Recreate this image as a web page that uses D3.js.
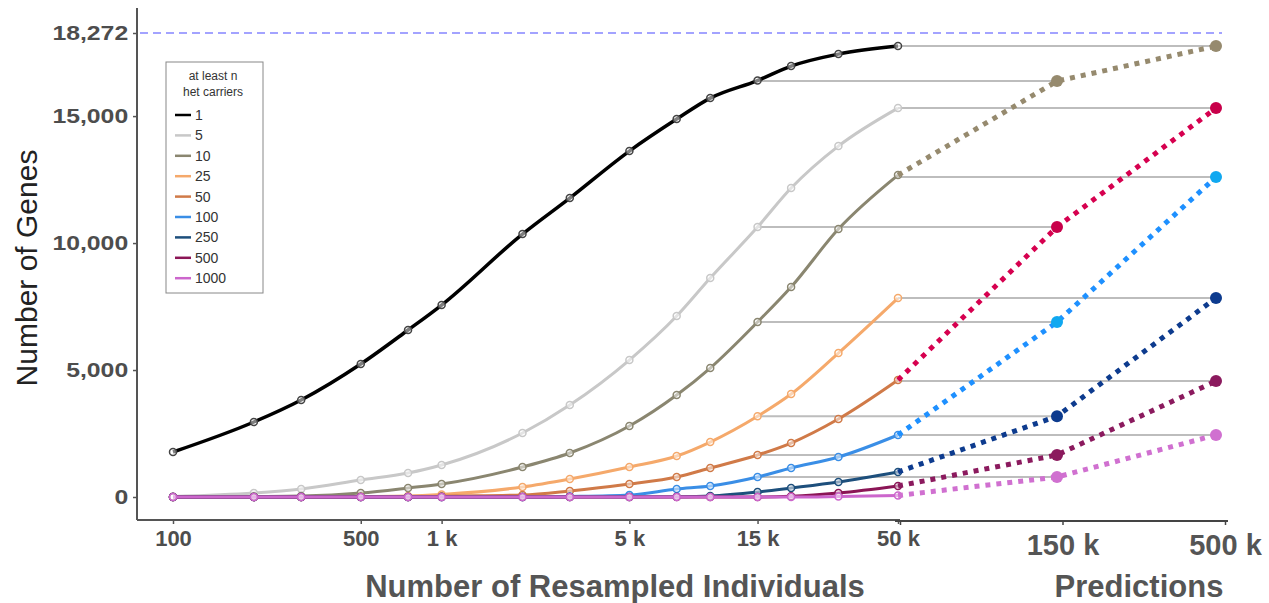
<!DOCTYPE html>
<html>
<head>
<meta charset="utf-8">
<script src="https://cdn.jsdelivr.net/npm/d3@7"></script>
<style>
  body { margin: 0; background: #fff; }
  svg { font-family: "Liberation Sans", Arial, sans-serif; }
</style>
</head>
<body>
<svg width="1269" height="603"></svg>
<script>
// Resampled sample sizes (x) and genes with at least n het carriers (y)
const sampleSizes = [100, 200, 300, 500, 750, 1000, 2000, 3000, 5000, 7500, 10000, 15000, 20000, 30000, 50000];
const thresholds = ["1", "5", "10", "25", "50", "100", "250", "500", "1000"];
const genes1    = [1772, 2953, 3819, 5236, 6575, 7559, 10354, 11772, 13622, 14882, 15709, 16400, 16969, 17441, 17756];
const genes5    = [20, 157, 315, 669, 945, 1260, 2520, 3622, 5394, 7126, 8622, 10630, 12165, 13819, 15315];
const genes10   = [0, 20, 40, 157, 354, 512, 1181, 1732, 2795, 4016, 5079, 6890, 8268, 10551, 12677];
const genes25   = [0, 0, 0, 20, 40, 100, 394, 709, 1181, 1614, 2165, 3180, 4055, 5669, 7835];
const genes50   = [0, 0, 0, 0, 0, 30, 79, 236, 512, 787, 1142, 1654, 2126, 3071, 4606];
const genes100  = [0, 0, 0, 0, 0, 0, 0, 20, 79, 315, 433, 787, 1142, 1575, 2441];
const genes250  = [0, 0, 0, 0, 0, 0, 0, 0, 0, 10, 40, 197, 354, 591, 984];
const genes500  = [0, 0, 0, 0, 0, 0, 0, 0, 0, 0, 0, 0, 30, 157, 433];
const genes1000 = [0, 0, 0, 0, 0, 0, 0, 0, 0, 0, 0, 0, 0, 20, 60];
const obsColors = ["#000000", "#c8c8c8", "#8a8670", "#f5a96b", "#d07a48", "#3a8ee6", "#1d4f7c", "#8b1556", "#cc66cc"];

// Predictions at 50k / 150k / 500k
const predLabels = ["50 k", "150 k", "500 k"];
const pred10   = [12677, 16378, 17756];
const pred50   = [4606, 10630, 15315];
const pred100  = [2441, 6890, 12598];
const pred250  = [984, 3180, 7835];
const pred500  = [433, 1654, 4567];
const pred1000 = [60, 787, 2441];
const predColors = ["#968a6e", "#d6004f", "#1e90ff", "#0d3b8e", "#8b1a5e", "#d070d0"];
const predDotColors = ["#968a6e", "#c8004a", "#10a8f0", "#0d3b8e", "#8b1a5e", "#d070d0"];

const xTickVals = [100, 500, 1000, 5000, 15000, 50000];
const xTickText = ["100", "500", "1 k", "5 k", "15 k", "50 k"];
const yTickVals = [0, 5000, 10000, 15000, 18272];
const totalGenes = 18272;

const observed = [genes1, genes5, genes10, genes25, genes50, genes100, genes250, genes500, genes1000];
const predicted = [pred10, pred50, pred100, pred250, pred500, pred1000];

const FONT = "'Liberation Sans', Arial, sans-serif";
const svg = d3.select("svg");

const x = d3.scaleLog().domain([100, 50000]).range([173, 898]);
const xp = d3.scalePoint().domain(predLabels).range([898, 1216]);
const xpAxis = d3.scalePoint().domain(predLabels).range([900, 1225]);
const y = d3.scaleLinear().domain([0, totalGenes]).range([497, 33]);

// Y axis
const yAxis = svg.append("g")
    .attr("transform", "translate(137,0)")
    .call(d3.axisLeft(y).tickValues(yTickVals).tickSize(4).tickFormat(d3.format(",")))
    .attr("font-family", FONT);
yAxis.select(".domain").attr("d", "M0,8V520").attr("stroke", "#555").attr("stroke-width", 2);
yAxis.selectAll(".tick line").attr("stroke", "#555").attr("stroke-width", 1.5);
yAxis.selectAll(".tick text")
    .attr("x", -7.5)
    .attr("transform", "scale(1.18,1)")
    .style("font-size", "21px").style("font-weight", "bold").attr("fill", "#4d4d4d");

// X axis (resampled)
const xAxis = svg.append("g")
    .attr("transform", "translate(0,520)")
    .call(d3.axisBottom(x).tickValues(xTickVals).tickSize(4).tickFormat((d, i) => xTickText[i]))
    .attr("font-family", FONT);
xAxis.select(".domain").attr("d", "M137,0H900").attr("stroke", "#555").attr("stroke-width", 2);
xAxis.selectAll(".tick line").attr("stroke", "#555").attr("stroke-width", 1.5);
xAxis.selectAll(".tick text").attr("y", 10)
    .style("font-size", "22px").style("font-weight", "bold").attr("fill", "#4d4d4d");

// X axis (predictions)
const pAxis = svg.append("g")
    .attr("transform", "translate(0,521)")
    .call(d3.axisBottom(xpAxis).tickSize(4))
    .attr("font-family", FONT);
pAxis.select(".domain").attr("d", "M895,0H1228").attr("stroke", "#444").attr("stroke-width", 2);
pAxis.selectAll(".tick line").attr("stroke", "#444").attr("stroke-width", 1.5);
pAxis.selectAll(".tick text").filter(d => d === "50 k").remove();
pAxis.selectAll(".tick text").attr("y", 13)
    .style("font-size", "29px").style("font-weight", "bold").attr("fill", "#555");

// Titles
svg.append("text")
    .attr("transform", "translate(37,268) rotate(-90)")
    .attr("text-anchor", "middle")
    .style("font-size", "30px").attr("fill", "#222")
    .text("Number of Genes");
svg.append("text")
    .attr("x", 615).attr("y", 597).attr("text-anchor", "middle")
    .style("font-size", "31px").style("font-weight", "bold").attr("fill", "#555")
    .text("Number of Resampled Individuals");
svg.append("text")
    .attr("x", 1139).attr("y", 597).attr("text-anchor", "middle")
    .style("font-size", "31px").style("font-weight", "bold").attr("fill", "#555")
    .text("Predictions");

// Total genes reference line
svg.append("line")
    .attr("x1", 140).attr("x2", 1222)
    .attr("y1", y(totalGenes)).attr("y2", y(totalGenes))
    .attr("stroke", "#a3a3ff").attr("stroke-width", 2).attr("stroke-dasharray", "8,5");

// Connector lines: observed 15k -> predicted 150k, observed 50k -> predicted 500k
predicted.forEach(p => {
    [[15000, 1], [50000, 2]].forEach(([sx, pi]) => {
        svg.append("line")
            .attr("x1", x(sx)).attr("x2", xp(predLabels[pi]))
            .attr("y1", y(p[pi])).attr("y2", y(p[pi]))
            .attr("stroke", "#bdbdbd").attr("stroke-width", 2);
    });
});

// Observed lines
const line = d3.line().x((d, i) => x(sampleSizes[i])).y(d => y(d)).curve(d3.curveMonotoneX);
observed.forEach((vals, k) => {
    svg.append("path")
        .datum(vals)
        .attr("fill", "none")
        .attr("stroke", obsColors[k])
        .attr("stroke-width", k === 0 ? 3.5 : 3)
        .attr("d", line);
    svg.append("g").selectAll("circle")
        .data(vals)
        .join("circle")
        .attr("cx", (d, i) => x(sampleSizes[i]))
        .attr("cy", d => y(d))
        .attr("r", 3.5)
        .attr("fill", "#fff").attr("fill-opacity", 0.5)
        .attr("stroke", k === 0 ? "#444" : obsColors[k])
        .attr("stroke-width", 1.5);
});

// Prediction dotted lines
const pline = d3.line().x((d, i) => xp(predLabels[i])).y(d => y(d));
predicted.forEach((vals, k) => {
    svg.append("path")
        .datum(vals)
        .attr("fill", "none")
        .attr("stroke", predColors[k])
        .attr("stroke-width", 5)
        .attr("stroke-dasharray", "5,6")
        .attr("d", pline);
    svg.append("g").selectAll("circle")
        .data(vals.slice(1))
        .join("circle")
        .attr("cx", (d, i) => xp(predLabels[i + 1]))
        .attr("cy", d => y(d))
        .attr("r", 6)
        .attr("fill", predDotColors[k]);
});

// Legend
const legend = svg.append("g");
legend.append("rect")
    .attr("x", 166).attr("y", 62).attr("width", 97).attr("height", 231)
    .attr("fill", "#fff").attr("stroke", "#888").attr("stroke-width", 1);
legend.append("text").attr("x", 213).attr("y", 80).attr("text-anchor", "middle")
    .style("font-size", "12px").attr("fill", "#333").text("at least n");
legend.append("text").attr("x", 213).attr("y", 96).attr("text-anchor", "middle")
    .style("font-size", "12px").attr("fill", "#333").text("het carriers");
thresholds.forEach((t, k) => {
    const ly = 115 + k * 20.4;
    legend.append("line")
        .attr("x1", 175).attr("x2", 191).attr("y1", ly).attr("y2", ly)
        .attr("stroke", obsColors[k]).attr("stroke-width", 2.5);
    legend.append("text")
        .attr("x", 195).attr("y", ly + 5)
        .style("font-size", "14px").attr("fill", "#333")
        .text(t);
});
</script>
</body>
</html>
